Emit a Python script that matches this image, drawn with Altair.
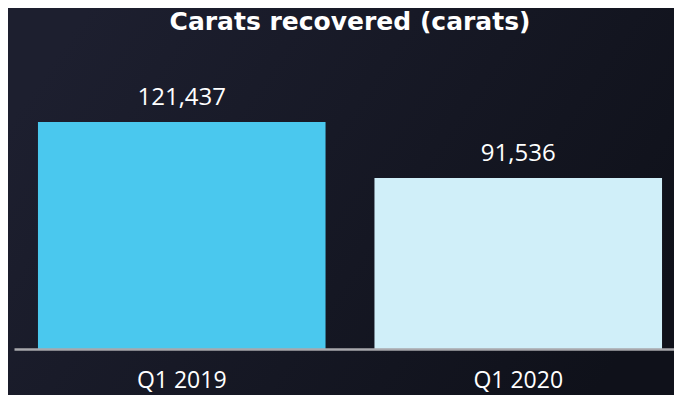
import altair as alt
import pandas as pd

categories = ["Q1 2019", "Q1 2020"]
values = [121437, 91536]
labels = ["121,437", "91,536"]
colors = ["#4AC8EE", "#D0EFF9"]
title_text = "Carats recovered (carats)"

df = pd.DataFrame({"period": categories, "carats": values, "label": labels, "color": colors})

W, H = 660, 299
PT, PB, PL = 42, 46, 6
FONT = "Open Sans"

xscale = alt.Scale(paddingInner=0.1454, paddingOuter=0.0534, align=0.667)
yscale = alt.Scale(domain=[0, 160000])

bg = alt.Chart(pd.DataFrame({"a": [0]})).mark_rect(
    fill=alt.LinearGradient(
        gradient="linear",
        stops=[alt.GradientStop(color="#1d1f2f", offset=0), alt.GradientStop(color="#0f111a", offset=1)],
        x1=0, x2=1, y1=0.3, y2=0.7,
    )
).encode(x=alt.value(-PL), x2=alt.value(W), y=alt.value(-PT), y2=alt.value(H + PB))

title = alt.Chart(pd.DataFrame({"t": [title_text]})).mark_text(
    fontSize=25, font="DejaVu Sans", fontWeight="bold", color="white", baseline="middle", align="center"
).encode(x=alt.value(336), y=alt.value(-28), text="t:N")

bars = alt.Chart(df).mark_bar().encode(
    x=alt.X("period:N", scale=xscale, sort=categories,
            axis=alt.Axis(title=None, labelAngle=0, ticks=False, labelFontSize=23,
                          labelColor="white", labelPadding=20, labelFont=FONT,
                          domainColor="#a8a8ad", domainWidth=2.5, grid=False, zindex=1)),
    y=alt.Y("carats:Q", scale=yscale, axis=None),
    color=alt.Color("color:N", scale=None),
)

text = alt.Chart(df).mark_text(baseline="alphabetic", dy=-17, fontSize=24, color="white", font=FONT).encode(
    x=alt.X("period:N", scale=xscale, sort=categories),
    y=alt.Y("carats:Q", scale=yscale),
    text="label:N",
)

chart = alt.layer(bg, title, bars, text).properties(
    width=W, height=H,
    autosize=alt.AutoSizeParams(type="none"),
    padding={"left": PL, "top": PT, "right": 0, "bottom": PB},
).configure(background="#161826").configure_view(stroke=None)

chart.save("out.html", embed_options={"renderer": "svg", "actions": False})
